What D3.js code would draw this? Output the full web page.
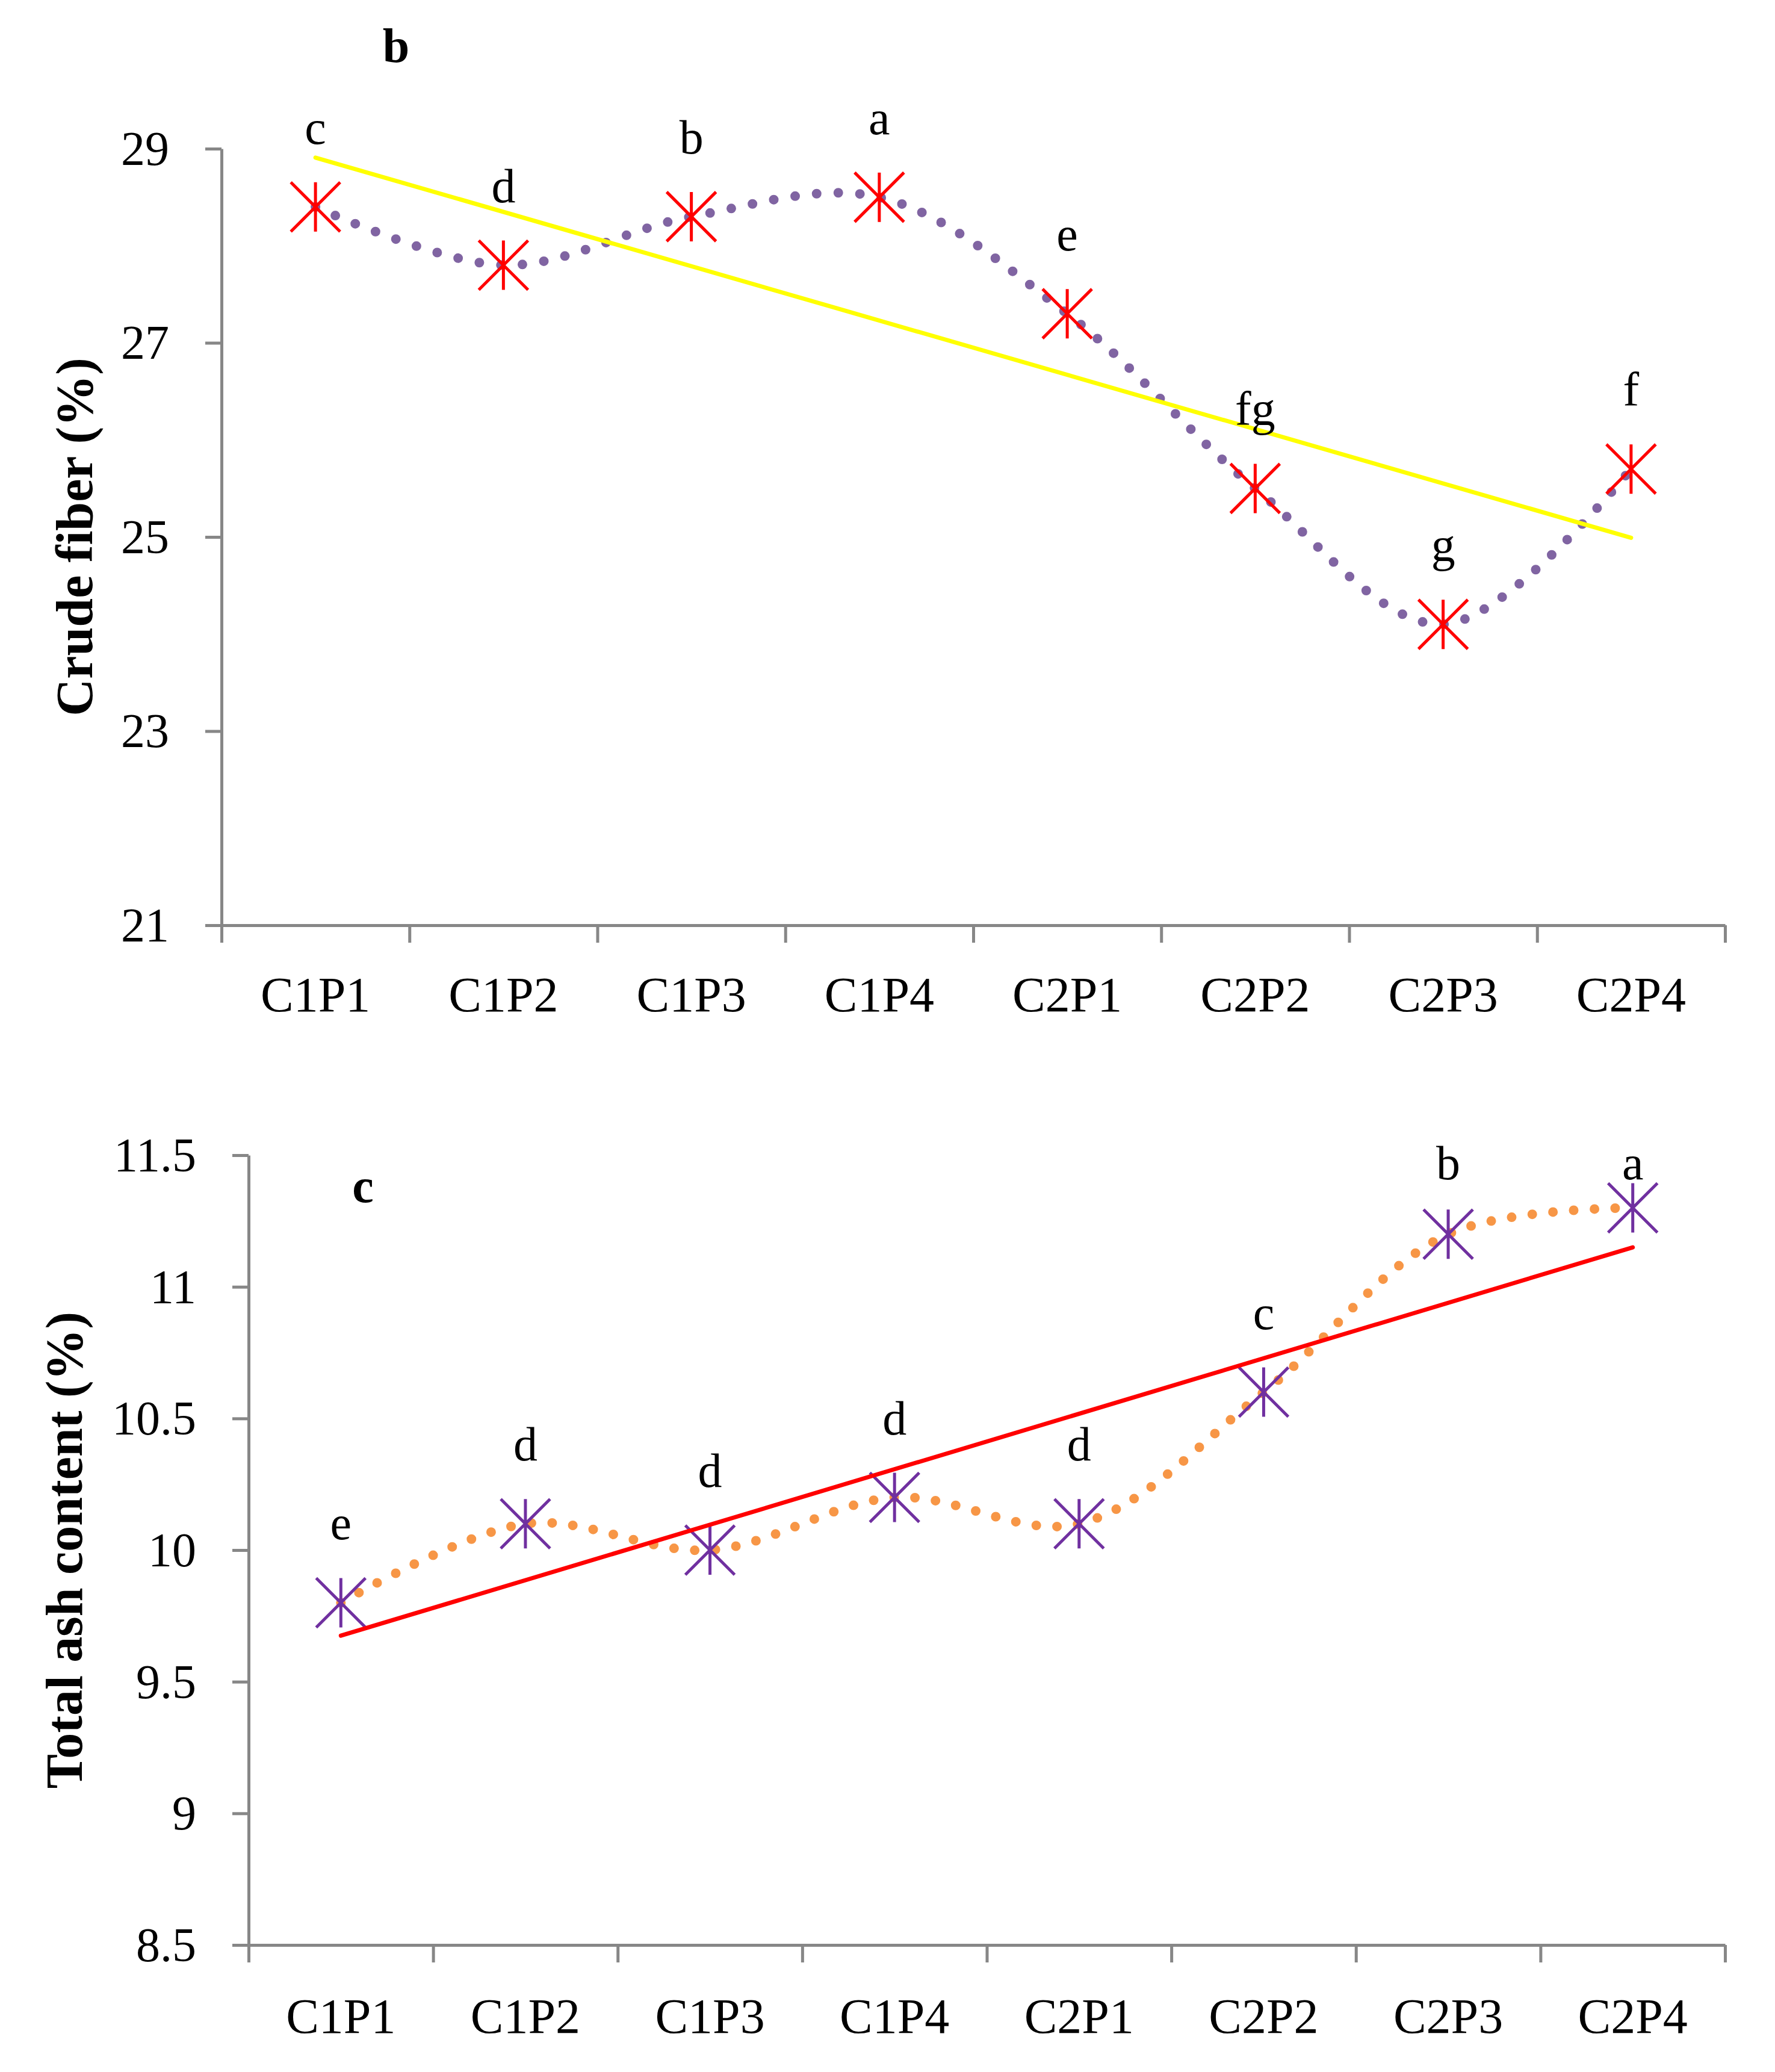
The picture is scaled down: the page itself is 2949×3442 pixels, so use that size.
<!DOCTYPE html>
<html>
<head>
<meta charset="utf-8">
<script src="https://cdn.jsdelivr.net/npm/d3@7"></script>
<style>
  body { margin: 0; background: #fff; }
  text { font-family: "Palatino Linotype", "Book Antiqua", Palatino, "Liberation Serif", serif; }
</style>
</head>
<body>
<svg id="chart"></svg>
<script>
var width = 2949,
    height = 3442;

let categories = ["C1P1", "C1P2", "C1P3", "C1P4", "C2P1", "C2P2", "C2P3", "C2P4"];

// panel b: crude fiber
let fiberValues = [28.4, 27.8, 28.3, 28.5, 27.3, 25.5, 24.1, 25.7];
let fiberLetters = ["c", "d", "b", "a", "e", "fg", "g", "f"];
let fiberTicks = [21, 23, 25, 27, 29];

// panel c: total ash
let ashValues = [9.8, 10.1, 10.0, 10.2, 10.1, 10.6, 11.2, 11.3];
let ashLetters = ["e", "d", "d", "d", "d", "c", "b", "a"];
let ashTicks = [8.5, 9, 9.5, 10, 10.5, 11, 11.5];

let axisColor = "#878787";

let svg = d3.select("#chart")
    .attr("width", width)
    .attr("height", height);

svg.append("rect")
    .attr("width", width)
    .attr("height", height)
    .attr("fill", "#fff");

// least squares line through (1..n, values)
let trend = (values) => {
    let n = values.length;
    let xs = values.map((d, i) => i + 1);
    let mx = d3.mean(xs), my = d3.mean(values);
    let sxy = d3.sum(values, (d, i) => (xs[i] - mx) * (d - my));
    let sxx = d3.sum(xs, x => (x - mx) * (x - mx));
    let slope = sxy / sxx;
    return [my + slope * (1 - mx), my + slope * (n - mx)];
};

let drawPanel = (p) => {
    let g = svg.append("g");

    let x = d3.scaleBand()
        .domain(categories)
        .range([p.left, p.right])
        .padding(0);

    let xEdge = d3.scaleLinear()
        .domain([0, categories.length])
        .range([p.left, p.right]);

    let y = d3.scaleLinear()
        .domain(p.domain)
        .range([p.bottom, p.top]);

    let cx = d => x(d) + x.bandwidth() / 2;

    // y axis
    let yAxis = g.append("g")
        .attr("transform", `translate(${p.left}, 0)`)
        .call(d3.axisLeft(y).tickValues(p.ticks).tickSize(27).tickSizeOuter(0)
            .tickFormat(d => String(d)));
    yAxis.select(".domain").attr("stroke", axisColor).attr("stroke-width", 5);
    yAxis.selectAll(".tick line").attr("stroke", axisColor).attr("stroke-width", 5);
    yAxis.selectAll(".tick text")
        .attr("x", -87)
        .attr("dy", "0.33em")
        .attr("fill", "#000")
        .style("font-size", "80px")
        .style("font-family", null);

    // x axis: ticks on category edges
    let xAxis = g.append("g")
        .attr("transform", `translate(0, ${p.bottom})`)
        .call(d3.axisBottom(xEdge).tickValues(d3.range(categories.length + 1))
            .tickSize(29).tickSizeOuter(0).tickFormat(""));
    xAxis.select(".domain").attr("stroke", axisColor).attr("stroke-width", 5);
    xAxis.selectAll(".tick line").attr("stroke", axisColor).attr("stroke-width", 5);

    let xLabels = g.append("g")
        .attr("transform", `translate(0, ${p.bottom})`)
        .call(d3.axisBottom(x).tickSize(0));
    xLabels.select(".domain").remove();
    xLabels.selectAll(".tick text")
        .attr("y", p.labelOffset)
        .attr("dy", 0)
        .attr("fill", "#000")
        .style("font-size", "82px")
        .style("font-family", null);

    // y title
    g.append("text")
        .attr("transform", `translate(${p.titleX}, ${(p.top + p.bottom) / 2}) rotate(-90)`)
        .attr("text-anchor", "middle")
        .style("font-size", "86px")
        .style("font-weight", "bold")
        .text(p.title);

    // panel letter
    g.append("text")
        .attr("x", p.panelX)
        .attr("y", p.panelY)
        .attr("text-anchor", "middle")
        .style("font-size", "80px")
        .style("font-weight", "bold")
        .text(p.panel);

    // smoothed dotted series line
    let line = d3.line()
        .x((d, i) => cx(categories[i]))
        .y(d => y(d))
        .curve(d3.curveCatmullRom);

    g.append("path")
        .datum(p.values)
        .attr("d", line)
        .attr("fill", "none")
        .attr("stroke", p.dotColor)
        .attr("stroke-width", 16)
        .attr("stroke-linecap", "round")
        .attr("stroke-dasharray", `0 ${p.dotGap}`);

    // star markers
    let r = 41;
    g.append("g")
        .selectAll("path")
        .data(p.values)
        .join("path")
        .attr("transform", (d, i) => `translate(${cx(categories[i])}, ${y(d)})`)
        .attr("d", `M${-r},${-r}L${r},${r}M${r},${-r}L${-r},${r}M0,${-r}V${r}`)
        .attr("fill", "none")
        .attr("stroke", p.markerColor)
        .attr("stroke-width", 5);

    // linear trend line
    let t = trend(p.values);
    g.append("line")
        .attr("x1", cx(categories[0]))
        .attr("y1", y(t[0]))
        .attr("x2", cx(categories[categories.length - 1]))
        .attr("y2", y(t[1]))
        .attr("stroke", p.trendColor)
        .attr("stroke-width", 7)
        .attr("stroke-linecap", "round");

    // significance letters, kept inside the plot area
    g.append("g")
        .selectAll("text")
        .data(p.values)
        .join("text")
        .attr("x", (d, i) => cx(categories[i]))
        .attr("y", d => Math.max(y(d) - 105, p.labelMinY))
        .attr("text-anchor", "middle")
        .style("font-size", "80px")
        .text((d, i) => p.letters[i]);
};

drawPanel({
    values: fiberValues, letters: fiberLetters, ticks: fiberTicks,
    domain: [21, 29], left: 368, right: 2866, top: 247, bottom: 1537,
    labelOffset: 143, title: "Crude fiber (%)", titleX: 153,
    panel: "b", panelX: 658, panelY: 103, labelMinY: 0,
    dotColor: "#8064A2", dotGap: 36, markerColor: "#FF0000", trendColor: "#FFFF00"
});

drawPanel({
    values: ashValues, letters: ashLetters, ticks: ashTicks,
    domain: [8.5, 11.5], left: 413, right: 2866, top: 1919, bottom: 3231,
    labelOffset: 146, title: "Total ash content (%)", titleX: 136,
    panel: "c", panelX: 603, panelY: 1997, labelMinY: 1959,
    dotColor: "#F79646", dotGap: 34.5, markerColor: "#7030A0", trendColor: "#FF0000"
});
</script>
</body>
</html>
